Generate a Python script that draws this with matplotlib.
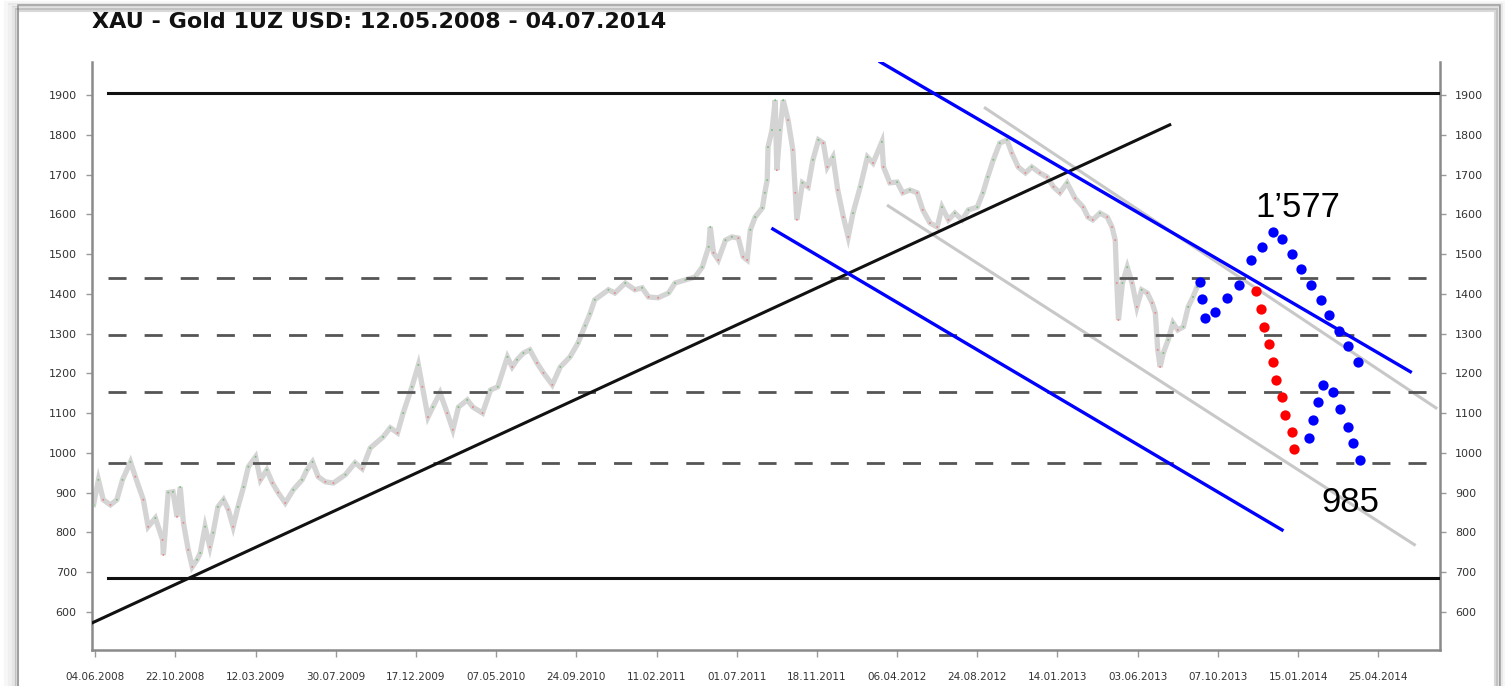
import numpy as np
import matplotlib.pyplot as plt
from matplotlib.patches import Rectangle

# trading-day index (0 = 04.06.2008, one label every 100 bars) and gold price
dzien = [-2, 4, 10, 19, 27, 34, 44, 50, 60, 66, 75, 84, 85, 91, 97, 102, 106, 110, 116, 121,
         127, 131, 137, 143, 147, 153, 160, 166, 172, 178, 185, 191, 200, 206, 214, 221, 228,
         237, 247, 258, 264, 271, 278, 287, 297, 312, 324, 333, 343, 359, 368, 377, 384, 395,
         403, 408, 415, 421, 430, 439, 446, 453, 464, 471, 483, 493, 502, 514, 520, 526, 534,
         542, 551, 559, 570, 580, 592, 602, 611, 617, 623, 640, 648, 661, 673, 682, 690, 702,
         715, 723, 736, 748, 757, 765, 767, 771, 777, 786, 794, 802, 808, 813, 817, 823, 832,
         835, 838, 839, 844, 848, 850, 854, 858, 864, 870, 873, 875, 882, 889, 895, 902, 908,
         913, 920, 926, 933, 939, 945, 954, 963, 970, 981, 983, 991, 1000, 1007, 1016, 1025,
         1032, 1041, 1050, 1056, 1064, 1072, 1081, 1089, 1100, 1107, 1113, 1120, 1128, 1137,
         1143, 1151, 1160, 1168, 1178, 1187, 1195, 1203, 1212, 1222, 1232, 1238, 1244, 1253,
         1262, 1268, 1272, 1274, 1276, 1281, 1287, 1293, 1299, 1305, 1312, 1318, 1322, 1325,
         1328, 1332, 1338, 1344, 1350, 1357, 1363, 1369, 1374]
cena = [870, 932, 882, 869, 882, 932, 977, 940, 882, 814, 836, 781, 743, 900, 902, 839, 914, 824,
        756, 713, 731, 748, 814, 763, 799, 864, 882, 857, 814, 864, 914, 965, 990, 932, 957, 924,
        900, 874, 907, 932, 957, 977, 940, 927, 924, 945, 975, 960, 1012, 1040, 1063, 1050, 1100,
        1166, 1221, 1166, 1090, 1115, 1151, 1100, 1058, 1115, 1133, 1115, 1100, 1158, 1166, 1241,
        1216, 1234, 1251, 1259, 1226, 1201, 1171, 1216, 1241, 1276, 1320, 1350, 1385, 1410, 1402,
        1427, 1410, 1415, 1392, 1390, 1402, 1427, 1435, 1442, 1467, 1518, 1568, 1503, 1485, 1535,
        1543, 1540, 1493, 1485, 1561, 1593, 1616, 1654, 1686, 1769, 1812, 1887, 1711, 1812, 1887,
        1837, 1762, 1654, 1586, 1679, 1669, 1737, 1787, 1779, 1719, 1744, 1661, 1593, 1543, 1603,
        1669, 1744, 1729, 1782, 1719, 1679, 1681, 1654, 1661, 1654, 1611, 1578, 1568, 1618, 1586,
        1603, 1586, 1611, 1618, 1654, 1694, 1737, 1779, 1787, 1754, 1719, 1704, 1719, 1704, 1694,
        1669, 1654, 1679, 1640, 1618, 1593, 1586, 1603, 1593, 1568, 1535, 1427, 1334, 1427, 1467,
        1427, 1367, 1410, 1402, 1377, 1352, 1259, 1216, 1251, 1284, 1327, 1309, 1317, 1367, 1392,
        1417]

# prognoza
nieb1_x = [1378, 1380, 1384, 1397, 1411, 1426, 1441, 1455, 1469, 1480, 1493, 1504, 1516, 1528,
           1539, 1551, 1562, 1575]
nieb1_y = [1430, 1387, 1339, 1354, 1390, 1422, 1485, 1518, 1556, 1538, 1500, 1462, 1422, 1385,
           1347, 1307, 1269, 1229]
czerw_x = [1448, 1454, 1458, 1464, 1469, 1473, 1480, 1484, 1492, 1495]
czerw_y = [1407, 1362, 1317, 1274, 1229, 1183, 1141, 1095, 1053, 1010]
nieb2_x = [1514, 1519, 1525, 1531, 1543, 1552, 1562, 1568, 1577]
nieb2_y = [1038, 1083, 1128, 1171, 1153, 1110, 1065, 1025, 982]

# linie trendu (x0, y0, x1, y1)
trend_czarny = [-4, 572, 1340, 1825]
kanal_nieb = [[979, 1983, 1640, 1204], [845, 1563, 1480, 806]]
kanal_szary = [[1110, 1867, 1672, 1113], [989, 1621, 1645, 769]]
poziomy_ciagle = [1905, 685]
poziomy_przer = [1440, 1297, 1152, 975]

etykiety = ["04.06.2008", "22.10.2008", "12.03.2009", "30.07.2009", "17.12.2009", "07.05.2010",
            "24.09.2010", "11.02.2011", "01.07.2011", "18.11.2011", "06.04.2012", "24.08.2012",
            "14.01.2013", "03.06.2013", "07.10.2013", "15.01.2014", "25.04.2014"]

fig = plt.figure(figsize=(15.12, 6.86), dpi=100)
ax = fig.add_axes([92/1512, 1-650/686, 1348/1512, 588/686])

# ramka zrzutu ekranu
for i, a in enumerate([0.03, 0.06, 0.1, 0.15]):
    fig.patches.append(Rectangle((0.004 + i*0.0025, -0.1), 0.99 - i*0.004, 1.095 - i*0.003,
                                 transform=fig.transFigure, fill=False,
                                 edgecolor='black', alpha=a, lw=3))
fig.patches.append(Rectangle((18/1512, -0.1), 1482/1512, 1.1-5/686, transform=fig.transFigure,
                             facecolor='white', edgecolor='#b0b0b0', lw=1.2, zorder=-1))

ax.plot(dzien, cena, color='#d4d4d4', lw=3.8, zorder=2, solid_joinstyle='miter')
zmiana = np.diff(cena, prepend=cena[0])
kolory = ['#7fbf7f' if z >= 0 else '#e58a8a' for z in zmiana]
ax.scatter(dzien, cena, s=2, c=kolory, zorder=3, linewidths=0)

for p in poziomy_ciagle:
    ax.plot([16, 1677], [p, p], color='#111111', lw=2.2, zorder=4)
for p in poziomy_przer:
    ax.plot([16, 1665], [p, p], color='#555555', lw=2, ls=(0, (6.5, 6.5)), zorder=4)

ax.plot(trend_czarny[::2], trend_czarny[1::2], color='#111111', lw=2.2, zorder=4)
for l in kanal_szary:
    ax.plot(l[::2], l[1::2], color='#c8c8c8', lw=2.2, zorder=3)
for l in kanal_nieb:
    ax.plot(l[::2], l[1::2], color='#0000ff', lw=2.4, zorder=5)

ax.scatter(nieb1_x, nieb1_y, s=55, color='#0000ff', zorder=6, linewidths=0)
ax.scatter(czerw_x, czerw_y, s=55, color='#ff0000', zorder=6, linewidths=0)
ax.scatter(nieb2_x, nieb2_y, s=55, color='#0000ff', zorder=6, linewidths=0)

ax.text(1500, 1618, "1\u2019577", fontsize=25, family='Liberation Sans', ha='center', va='center')
ax.text(1565, 874, "985", fontsize=25, family='Liberation Sans', ha='center', va='center')

ax.set_xlim(-4, 1677)
ax.set_ylim(504, 1983)
ax.set_xticks(np.arange(len(etykiety))*100)
ax.set_xticklabels(etykiety)
ax.set_yticks(np.arange(600, 2000, 100))
ax.tick_params(axis='y', which='both', left=True, right=True, labelleft=True, labelright=True,
               length=4, width=1, color='#999999', labelsize=8, labelcolor='#333333', pad=7)
ax.tick_params(axis='x', length=5, width=1, color='#999999', labelsize=7.5,
               labelcolor='#333333', pad=11)
ax.spines['top'].set_visible(False)
for s in ['left', 'right', 'bottom']:
    ax.spines[s].set_color('#8a8a8a')
    ax.spines[s].set_linewidth(1.8)

fig.text(92/1512, 1-22/686, "XAU - Gold 1UZ USD: 12.05.2008 - 04.07.2014", fontsize=16,
         fontweight='bold', va='center', ha='left', color='#111111')

fig.savefig("out.png", dpi=100)
